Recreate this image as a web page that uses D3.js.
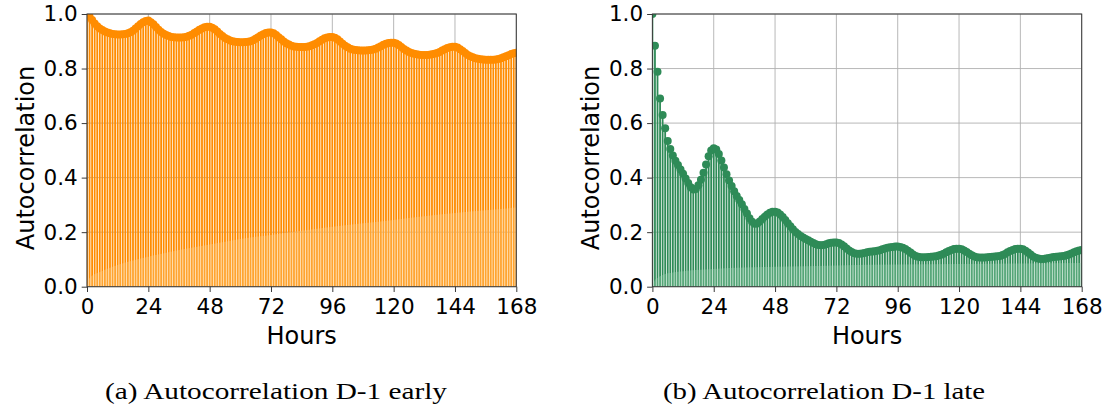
<!DOCTYPE html>
<html>
<head>
<meta charset="utf-8">
<script src="https://cdn.jsdelivr.net/npm/d3@7"></script>
<style>
  html, body { margin: 0; padding: 0; background: #fff; }
  svg { display: block; }
  .tick text { font-family: "DejaVu Sans", sans-serif; }
</style>
</head>
<body>
<svg id="chart" width="1113" height="410"></svg>
<script>
// Lag axis, in hours
const lagTicks = [0, 24, 48, 72, 96, 120, 144, 168];
const acfTicks = [0, 0.2, 0.4, 0.6, 0.8, 1.0];

// Autocorrelation at lags 0..168 — D-1 early
const acfEarly = [
  1.000, 0.990, 0.978, 0.965, 0.955, 0.947, 0.941, 0.936, 0.932, 0.929,
  0.927, 0.926, 0.925, 0.925, 0.926, 0.927, 0.929, 0.933, 0.939, 0.947,
  0.955, 0.963, 0.970, 0.974, 0.976, 0.970, 0.962, 0.952, 0.942, 0.934,
  0.928, 0.923, 0.919, 0.916, 0.915, 0.914, 0.914, 0.914, 0.915, 0.917,
  0.920, 0.924, 0.930, 0.936, 0.942, 0.947, 0.951, 0.953, 0.953, 0.950,
  0.944, 0.936, 0.927, 0.919, 0.912, 0.907, 0.903, 0.900, 0.898, 0.897,
  0.896, 0.896, 0.897, 0.898, 0.900, 0.904, 0.909, 0.915, 0.921, 0.926,
  0.930, 0.932, 0.932, 0.929, 0.923, 0.915, 0.907, 0.899, 0.893, 0.888,
  0.884, 0.881, 0.880, 0.879, 0.879, 0.879, 0.880, 0.882, 0.885, 0.889,
  0.894, 0.900, 0.906, 0.911, 0.914, 0.916, 0.916, 0.913, 0.907, 0.899,
  0.891, 0.884, 0.878, 0.873, 0.870, 0.868, 0.867, 0.866, 0.866, 0.866,
  0.867, 0.868, 0.870, 0.873, 0.877, 0.882, 0.887, 0.891, 0.894, 0.895,
  0.895, 0.892, 0.886, 0.879, 0.872, 0.866, 0.861, 0.857, 0.854, 0.852,
  0.851, 0.850, 0.850, 0.850, 0.851, 0.852, 0.854, 0.857, 0.861, 0.866,
  0.871, 0.875, 0.878, 0.880, 0.880, 0.877, 0.871, 0.864, 0.857, 0.850,
  0.845, 0.841, 0.838, 0.836, 0.834, 0.833, 0.832, 0.832, 0.832, 0.832,
  0.833, 0.835, 0.838, 0.841, 0.845, 0.849, 0.853, 0.856, 0.858
];

// Autocorrelation at lags 0..168 — D-1 late
const acfLate = [
  1.000, 0.884, 0.788, 0.690, 0.630, 0.581, 0.534, 0.505, 0.481, 0.462,
  0.446, 0.430, 0.414, 0.397, 0.380, 0.365, 0.356, 0.358, 0.372, 0.392,
  0.418, 0.448, 0.478, 0.499, 0.508, 0.503, 0.487, 0.463, 0.437, 0.412,
  0.389, 0.369, 0.350, 0.333, 0.318, 0.302, 0.285, 0.268, 0.251, 0.238,
  0.231, 0.232, 0.239, 0.248, 0.257, 0.265, 0.271, 0.275, 0.275, 0.272,
  0.265, 0.256, 0.245, 0.233, 0.222, 0.211, 0.201, 0.193, 0.186, 0.180,
  0.175, 0.170, 0.165, 0.160, 0.156, 0.153, 0.152, 0.153, 0.156, 0.159,
  0.161, 0.162, 0.162, 0.160, 0.155, 0.148, 0.140, 0.133, 0.127, 0.123,
  0.121, 0.121, 0.122, 0.124, 0.126, 0.128, 0.129, 0.130, 0.132, 0.134,
  0.137, 0.140, 0.143, 0.145, 0.146, 0.147, 0.147, 0.146, 0.143, 0.138,
  0.132, 0.125, 0.118, 0.113, 0.110, 0.108, 0.108, 0.108, 0.109, 0.110,
  0.111, 0.112, 0.114, 0.117, 0.121, 0.126, 0.131, 0.135, 0.138, 0.139,
  0.139, 0.137, 0.133, 0.127, 0.121, 0.115, 0.111, 0.108, 0.107, 0.107,
  0.107, 0.108, 0.109, 0.110, 0.111, 0.112, 0.113, 0.116, 0.120, 0.126,
  0.131, 0.135, 0.138, 0.139, 0.139, 0.137, 0.132, 0.125, 0.118, 0.111,
  0.106, 0.103, 0.102, 0.102, 0.103, 0.105, 0.107, 0.109, 0.110, 0.111,
  0.112, 0.113, 0.115, 0.118, 0.122, 0.126, 0.130, 0.133, 0.135
];

// 95% confidence half-width (Bartlett), sampled at selected lags
const bandLagsEarly = [0, 1, 6, 12, 24, 36, 48, 60, 72, 84, 96, 108, 120, 132, 144, 156, 168];
const bandEarly     = [0.000, 0.032, 0.058, 0.080, 0.110, 0.135, 0.155, 0.175, 0.190, 0.205, 0.220, 0.233, 0.245, 0.258, 0.270, 0.280, 0.290];
const bandLagsLate  = [0, 1, 2, 4, 8, 12, 17, 24, 36, 48, 72, 96, 120, 144, 168];
const bandLate      = [0.000, 0.025, 0.032, 0.043, 0.052, 0.057, 0.061, 0.065, 0.070, 0.073, 0.078, 0.081, 0.083, 0.085, 0.087];

const captions = ["(a) Autocorrelation D-1 early", "(b) Autocorrelation D-1 late"];

const svg = d3.select("#chart");
const Y0 = 286.7, Y1 = 14;

function panel(cfg) {
  const x = d3.scaleLinear().domain([0, 168]).range([cfg.left, cfg.right]);
  const y = d3.scaleLinear().domain([0, 1]).range([Y0, Y1]);
  const g = svg.append("g");

  const clipId = "clip-" + cfg.id;
  svg.append("clipPath").attr("id", clipId)
    .append("rect")
    .attr("x", cfg.left).attr("y", Y1)
    .attr("width", cfg.right - cfg.left).attr("height", Y0 - Y1);

  // grid
  const grid = g.append("g").attr("stroke", "#b0b0b0").attr("stroke-width", 0.9);
  grid.selectAll("line.v").data(lagTicks).join("line").attr("class", "v")
    .attr("x1", d => x(d)).attr("x2", d => x(d)).attr("y1", Y1).attr("y2", Y0);
  grid.selectAll("line.h").data(acfTicks).join("line").attr("class", "h")
    .attr("x1", cfg.left).attr("x2", cfg.right).attr("y1", d => y(d)).attr("y2", d => y(d));

  const plot = g.append("g").attr("clip-path", `url(#${clipId})`);
  const lags = d3.range(cfg.values.length);

  // stems
  plot.append("g").attr("stroke", cfg.color).attr("stroke-width", 1.8)
    .selectAll("line").data(lags).join("line")
    .attr("x1", i => x(i)).attr("x2", i => x(i))
    .attr("y1", y(0)).attr("y2", i => y(cfg.values[i]));

  // markers
  plot.append("g").attr("fill", cfg.color)
    .selectAll("circle").data(lags).join("circle")
    .attr("cx", i => x(i)).attr("cy", i => y(cfg.values[i])).attr("r", 4);

  // confidence band
  const band = d3.area()
    .x((d, i) => x(cfg.bandLags[i]))
    .y0((d) => y(-d)).y1((d) => y(d))
    .curve(d3.curveMonotoneX);
  plot.append("path").datum(cfg.band)
    .attr("d", band).attr("fill", cfg.bandColor).attr("fill-opacity", 0.35);

  // spines
  g.append("rect")
    .attr("x", cfg.left).attr("y", Y1)
    .attr("width", cfg.right - cfg.left).attr("height", Y0 - Y1)
    .attr("fill", "none").attr("stroke", "#3a3a3a").attr("stroke-width", 1);

  // axes
  const xa = g.append("g").attr("transform", `translate(0,${Y0})`)
    .call(d3.axisBottom(x).tickValues(lagTicks).tickSize(5.3).tickPadding(7).tickFormat(d3.format("d")));
  const ya = g.append("g").attr("transform", `translate(${cfg.left},0)`)
    .call(d3.axisLeft(y).tickValues(acfTicks).tickSize(5.3).tickPadding(4).tickFormat(d3.format(".1f")));
  [xa, ya].forEach(a => {
    a.select(".domain").remove();
    a.selectAll(".tick line").attr("stroke", "#3a3a3a");
    a.selectAll(".tick text").attr("fill", "#000").style("font-size", "21.5px");
  });

  // axis titles
  g.append("text")
    .attr("x", (cfg.left + cfg.right) / 2).attr("y", 344)
    .attr("text-anchor", "middle")
    .style("font-family", "'DejaVu Sans', sans-serif").style("font-size", "24px")
    .text("Hours");
  g.append("text")
    .attr("transform", `translate(${cfg.left - 53},158) rotate(-90)`)
    .attr("text-anchor", "middle")
    .style("font-family", "'DejaVu Sans', sans-serif").style("font-size", "24px")
    .text("Autocorrelation");

  // caption
  g.append("text")
    .attr("x", cfg.captionX - cfg.captionW / 2).attr("y", 399)
    .attr("textLength", cfg.captionW).attr("lengthAdjust", "spacingAndGlyphs")
    .style("font-family", "'Liberation Serif', serif").style("font-size", "24px")
    .text(cfg.caption);
}

panel({ id: "a", left: 87, right: 516.3, values: acfEarly, color: "#ff8c00",
        bandLags: bandLagsEarly, band: bandEarly, bandColor: "#ffd08a",
        caption: captions[0], captionX: 276, captionW: 342 });
panel({ id: "b", left: 652.4, right: 1081.7, values: acfLate, color: "#2e8b57",
        bandLags: bandLagsLate, band: bandLate, bandColor: "#9fd8b4",
        caption: captions[1], captionX: 824, captionW: 322 });
</script>
</body>
</html>
